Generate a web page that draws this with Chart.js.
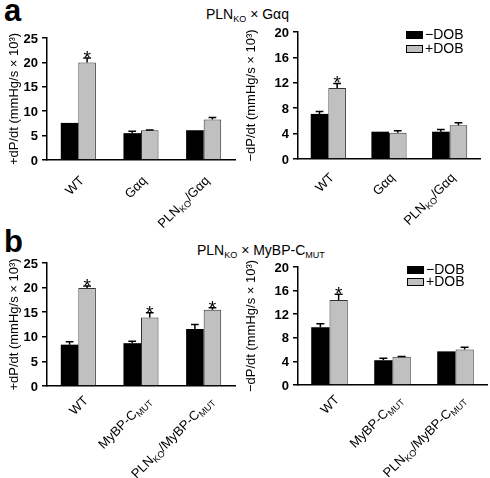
<!DOCTYPE html>
<html>
<head>
<meta charset="utf-8">
<script src="https://cdn.jsdelivr.net/npm/chart.js@4.4.1/dist/chart.umd.min.js"></script>
<style>
body{margin:0;background:#fff;font-family:Arial,"Liberation Sans",sans-serif;color:#000;}
#figura{position:relative;width:490px;height:478px;overflow:hidden;background:#fff;}
canvas{position:absolute;}
.letra{position:absolute;font:bold 31px Arial,"Liberation Sans",sans-serif;line-height:30px;}
.titulo{position:absolute;font-size:14px;line-height:16px;white-space:nowrap;}
.titulo sub{font-size:9px;vertical-align:-3px;line-height:0;}
</style>
</head>
<body>
<div id="figura">
  <div class="letra" style="left:4px;top:-4px">a</div>
  <div class="titulo" style="left:206px;top:6px">PLN<sub>KO</sub> × Gαq</div>
  <div class="letra" style="left:4px;top:227px">b</div>
  <div class="titulo" style="left:197px;top:242px">PLN<sub>KO</sub> × MyBP-C<sub>MUT</sub></div>
  <canvas id="aIzq" width="240" height="215" style="left:0;top:20px"></canvas>
  <canvas id="aDer" width="250" height="215" style="left:240px;top:20px"></canvas>
  <canvas id="bIzq" width="240" height="238" style="left:0;top:240px"></canvas>
  <canvas id="bDer" width="250" height="238" style="left:240px;top:240px"></canvas>
</div>
<script>
// series
const series = ["−DOB", "+DOB"];
const colores = ["#000000", "#c0c0c0"];

// categorias (_{..} = subindice)
const catA = ["WT", "Gαq", "PLN_{KO}/Gαq"];
const catB = ["WT", "MyBP-C_{MUT}", "PLN_{KO}/MyBP-C_{MUT}"];

// a, +dP/dt
const aMasMenos = [7.6, 5.5, 6.1];
const aMasMenosErr = [0, 0.4, 0];
const aMasMas = [20.0, 6.1, 8.3];
const aMasMasErr = [0.9, 0.05, 0.4];
const aMasEstrellas = [true, false, false];

// a, -dP/dt
const aMenMenos = [7.1, 4.3, 4.3];
const aMenMenosErr = [0.4, 0, 0.35];
const aMenMas = [11.2, 4.15, 5.3];
const aMenMasErr = [0.7, 0.3, 0.4];
const aMenEstrellas = [true, false, false];

// b, +dP/dt
const bMasMenos = [8.4, 8.7, 11.6];
const bMasMenosErr = [0.6, 0.4, 0.9];
const bMasMas = [19.9, 13.9, 15.5];
const bMasMasErr = [0.4, 1.0, 0.4];
const bMasEstrellas = [true, true, true];

// b, -dP/dt
const bMenMenos = [9.8, 4.2, 5.7];
const bMenMenosErr = [0.6, 0.35, 0];
const bMenMas = [14.4, 4.8, 6.0];
const bMenMasErr = [1.0, 0.05, 0.4];
const bMenEstrellas = [true, false, false];

const ticksMas = {max: 25, paso: 5};
const ticksMen = {max: 20, paso: 4};
const tituloMas = "+dP/dt (mmHg/s × 10³)";
const tituloMen = "−dP/dt (mmHg/s × 10³)";

function partes(txt) {
  const out = [];
  const re = /_\{([^}]*)\}/g;
  let ult = 0, m;
  while ((m = re.exec(txt))) {
    if (m.index > ult) out.push({t: txt.slice(ult, m.index), sub: false});
    out.push({t: m[1], sub: true});
    ult = re.lastIndex;
  }
  if (ult < txt.length) out.push({t: txt.slice(ult), sub: false});
  return out;
}

function textoPlano(txt) {
  return partes(txt).map(p => p.t).join("");
}

const FUENTE = 'Arial, "Liberation Sans", sans-serif';

// barras de error y asteriscos
const barrasError = {
  id: "barrasError",
  afterDatasetsDraw(chart) {
    const ctx = chart.ctx;
    const y = chart.scales.y;
    chart.data.datasets.forEach((ds, di) => {
      const meta = chart.getDatasetMeta(di);
      meta.data.forEach((barra, i) => {
        const v = ds.data[i];
        const e = (ds.errores || [])[i] || 0;
        const yTop = y.getPixelForValue(v + e);
        ctx.save();
        ctx.strokeStyle = "#000";
        ctx.lineWidth = 1.5;
        if (e > 0) {
          const media = Math.min(4, barra.width * 0.22);
          ctx.beginPath();
          ctx.moveTo(barra.x, barra.y);
          ctx.lineTo(barra.x, yTop);
          ctx.moveTo(barra.x - media, yTop);
          ctx.lineTo(barra.x + media, yTop);
          ctx.stroke();
        }
        if (ds.estrellas && ds.estrellas[i]) {
          ctx.fillStyle = "#000";
          ctx.font = "19px " + FUENTE;
          ctx.textAlign = "center";
          ctx.textBaseline = "alphabetic";
          ctx.fillText("*", barra.x, yTop + 6);
        }
        ctx.restore();
      });
    });
  }
};

// etiquetas del eje x giradas, con subindices
const etiquetasX = {
  id: "etiquetasX",
  afterDraw(chart) {
    const ctx = chart.ctx;
    const x = chart.scales.x;
    const base = chart.chartArea.bottom;
    const d = chart.options.desplazaEtiqueta;
    chart.options.categoriasMarcadas.forEach((cat, i) => {
      const segs = partes(cat);
      ctx.save();
      let ancho = 0;
      segs.forEach(s => {
        ctx.font = (s.sub ? "9px " : "13px ") + FUENTE;
        s.w = ctx.measureText(s.t).width;
        ancho += s.w;
      });
      ctx.translate(x.getPixelForValue(i) + d.x, base + d.y);
      ctx.rotate(-Math.PI / 4);
      ctx.fillStyle = "#000";
      ctx.textBaseline = "alphabetic";
      ctx.textAlign = "left";
      let px = -ancho;
      segs.forEach(s => {
        ctx.font = (s.sub ? "9px " : "13px ") + FUENTE;
        ctx.fillText(s.t, px, s.sub ? 15 : 12);
        px += s.w;
      });
      ctx.restore();
    });
  }
};

// leyenda en cajas
const leyendaCaja = {
  id: "leyendaCaja",
  afterDraw(chart, args, opts) {
    if (!opts || !opts.mostrar) return;
    const ctx = chart.ctx;
    chart.data.datasets.forEach((ds, i) => {
      const yy = opts.y + i * opts.paso;
      ctx.save();
      ctx.fillStyle = ds.backgroundColor;
      ctx.fillRect(opts.x, yy, 17, 8);
      ctx.strokeStyle = "#000";
      ctx.lineWidth = 1;
      ctx.strokeRect(opts.x + 0.5, yy + 0.5, 16, 7);
      ctx.fillStyle = "#000";
      ctx.font = "14px " + FUENTE;
      ctx.textBaseline = "middle";
      ctx.fillText(ds.label, opts.x + 19, yy + 4.5);
      ctx.restore();
    });
  }
};

function crearPanel(id, c) {
  return new Chart(document.getElementById(id), {
    type: "bar",
    data: {
      labels: c.categorias.map(textoPlano),
      datasets: [
        {label: series[0], data: c.menos, errores: c.errMenos, backgroundColor: colores[0],
         borderColor: "#000", borderWidth: 0, categoryPercentage: c.cp, barPercentage: 1},
        {label: series[1], data: c.mas, errores: c.errMas, estrellas: c.estrellas, backgroundColor: colores[1],
         borderColor: "#333", borderWidth: 1, categoryPercentage: c.cp, barPercentage: 1}
      ]
    },
    options: {
      responsive: false,
      animation: false,
      categoriasMarcadas: c.categorias,
      desplazaEtiqueta: c.etiqueta,
      layout: {padding: {top: c.padTop, right: c.padRight, left: 0, bottom: 0}},
      plugins: {
        legend: {display: false},
        tooltip: {enabled: false},
        leyendaCaja: c.leyenda || {mostrar: false}
      },
      scales: {
        x: {
          afterFit(s) { s.height = c.altoX; },
          border: {display: true, color: "#000", width: 1.5},
          grid: {display: false},
          ticks: {display: false}
        },
        y: {
          min: 0,
          max: c.ticks.max,
          afterFit(s) { s.width = c.anchoY; },
          border: {display: true, color: "#000", width: 1.5},
          grid: {display: true, drawOnChartArea: false, drawTicks: true, tickLength: 5, color: "#000", lineWidth: 1.5},
          ticks: {stepSize: c.ticks.paso, color: "#000", padding: 4, labelOffset: 1,
                  font: {family: FUENTE, size: 13, weight: "bold"}},
          title: {display: true, text: c.tituloY, color: "#000",
                  font: {family: FUENTE, size: 13}, padding: {top: c.padTitulo, bottom: 0}}
        }
      }
    },
    plugins: [barrasError, etiquetasX, leyendaCaja]
  });
}

crearPanel("aIzq", {
  categorias: catA, menos: aMasMenos, errMenos: aMasMenosErr, mas: aMasMas, errMas: aMasMasErr,
  estrellas: aMasEstrellas, ticks: ticksMas, tituloY: tituloMas,
  padTop: 18, padRight: 5, anchoY: 47, altoX: 75, padTitulo: 7, cp: 0.56,
  etiqueta: {x: -2, y: 13}
});

crearPanel("aDer", {
  categorias: catA, menos: aMenMenos, errMenos: aMenMenosErr, mas: aMenMas, errMas: aMenMasErr,
  estrellas: aMenEstrellas, ticks: ticksMen, tituloY: tituloMen,
  padTop: 12, padRight: 10, anchoY: 58, altoX: 76, padTitulo: 4, cp: 0.58,
  etiqueta: {x: -2, y: 11},
  leyenda: {mostrar: true, x: 166, y: 11, paso: 14}
});

crearPanel("bIzq", {
  categorias: catB, menos: bMasMenos, errMenos: bMasMenosErr, mas: bMasMas, errMas: bMasMasErr,
  estrellas: bMasEstrellas, ticks: ticksMas, tituloY: tituloMas,
  padTop: 23, padRight: 5, anchoY: 47, altoX: 92, padTitulo: 7, cp: 0.56,
  etiqueta: {x: 2, y: 7}
});

crearPanel("bDer", {
  categorias: catB, menos: bMenMenos, errMenos: bMenMenosErr, mas: bMenMas, errMas: bMenMasErr,
  estrellas: bMenEstrellas, ticks: ticksMen, tituloY: tituloMen,
  padTop: 27, padRight: 3, anchoY: 58, altoX: 93, padTitulo: 4, cp: 0.58,
  etiqueta: {x: 2, y: 7},
  leyenda: {mostrar: true, x: 167, y: 26, paso: 12}
});
</script>
</body>
</html>
